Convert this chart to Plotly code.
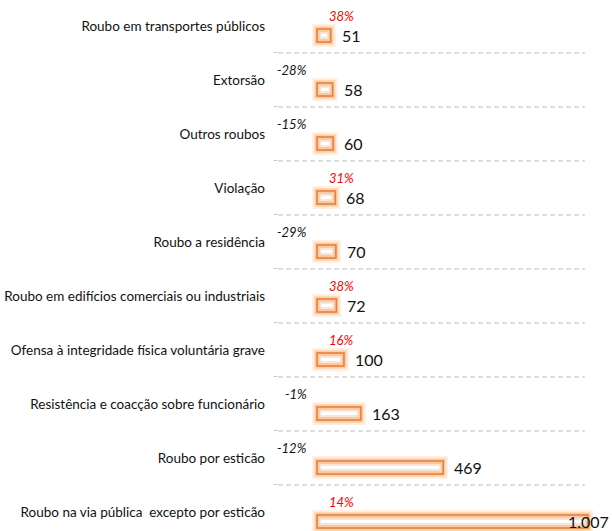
import plotly.graph_objects as go

# Categories listed top to bottom, with counts and year-on-year change (%)
categories = [
    "Roubo em transportes públicos",
    "Extorsão",
    "Outros roubos",
    "Violação",
    "Roubo a residência",
    "Roubo em edifícios comerciais ou industriais",
    "Ofensa à integridade física voluntária grave",
    "Resistência e coacção sobre funcionário",
    "Roubo por esticão",
    "Roubo na via pública\u00a0 excepto por esticão",
]
values = [51, 58, 60, 68, 70, 72, 100, 163, 469, 1007]
changes = [38, -28, -15, 31, -29, 38, 16, -1, -12, 14]

FONT = "Lato"
ORANGE = "#ED7D31"
PEACH = "#F8C9A6"

idx = list(range(len(categories)))
bar_pos = [i + 0.176 for i in idx]      # bars sit slightly below the row centre
BAR_W = 0.24
PX_PER_UNIT = 0.2691                     # horizontal pixels per data unit
inset = 4 / PX_PER_UNIT                  # highlight inset at bar ends

fig = go.Figure()

# soft orange glow around each bar
for lw, alpha in [(10, 0.14), (6, 0.24), (3, 0.35)]:
    fig.add_trace(go.Bar(
        x=values, y=bar_pos, orientation="h", width=BAR_W,
        marker=dict(color=f"rgba(247,150,70,{alpha})",
                    line=dict(color=f"rgba(247,150,70,{alpha})", width=lw)),
        hoverinfo="skip", showlegend=False,
    ))

# main bar body
fig.add_trace(go.Bar(
    x=values, y=bar_pos, orientation="h", width=BAR_W,
    marker=dict(color=PEACH, line=dict(color=ORANGE, width=1.5)),
    showlegend=False,
))

# light inner band and white highlight
fig.add_trace(go.Bar(
    x=[max(v - 2 * inset * 0.6, 0) for v in values], base=[inset * 0.6] * len(values),
    y=bar_pos, orientation="h", width=0.13,
    marker=dict(color="#FCE3D0", line=dict(width=0)),
    hoverinfo="skip", showlegend=False,
))
fig.add_trace(go.Bar(
    x=[max(v - 2 * inset, 0) for v in values], base=[inset] * len(values),
    y=bar_pos, orientation="h", width=0.06,
    marker=dict(color="white", line=dict(width=0)),
    hoverinfo="skip", showlegend=False,
))

fig.update_layout(barmode="overlay")

annotations = []
vmax = max(values)
for i, v, c in zip(idx, values, changes):
    label = f"{v:,}".replace(",", ".")
    if v == vmax:
        annotations.append(dict(x=v, y=i + 0.176, text=label, showarrow=False,
                                xanchor="right", xshift=23, yshift=0,
                                font=dict(family=FONT, size=16, color="#111111")))
    else:
        annotations.append(dict(x=v, y=i + 0.176, text=label, showarrow=False,
                                xanchor="left", xshift=9,
                                font=dict(family=FONT, size=16, color="#111111")))
    pct = f"<i>{c}%</i>"
    if c > 0:
        annotations.append(dict(x=0, y=i - 0.185, text=pct, showarrow=False,
                                xanchor="left", xshift=10,
                                font=dict(family=FONT, size=13, color="#FF0000")))
    else:
        annotations.append(dict(x=0, y=i - 0.185, text=pct, showarrow=False,
                                xanchor="right", xshift=-8,
                                font=dict(family=FONT, size=13, color="#111111")))

# dashed separators between rows
shapes = []
for i in idx[:-1]:
    shapes.append(dict(type="line", xref="paper", yref="y",
                       x0=0, x1=(585 - 278) / 322, y0=i + 0.5, y1=i + 0.5,
                       line=dict(color="#BFBFBF", width=1, dash="5px,3px"),
                       layer="below"))

fig.update_layout(
    width=612, height=531,
    margin=dict(l=278, r=12, t=0, b=0),
    paper_bgcolor="white", plot_bgcolor="white",
    annotations=annotations, shapes=shapes,
    xaxis=dict(range=[-(317 - 278) / PX_PER_UNIT, (600 - 317) / PX_PER_UNIT],
               visible=False, fixedrange=True),
    yaxis=dict(range=[9.352, -0.481], tickvals=idx, ticktext=categories,
               showgrid=False, zeroline=False, showline=False, ticks="",
               ticklabelstandoff=12,
               tickfont=dict(family=FONT, size=13.5, color="#111111"),
               minor=dict(tickvals=[i + 0.5 for i in idx[:-1]], ticks="outside",
                          ticklen=3, tickcolor="#BFBFBF", showgrid=False)),
)

fig.write_html("out.html")
